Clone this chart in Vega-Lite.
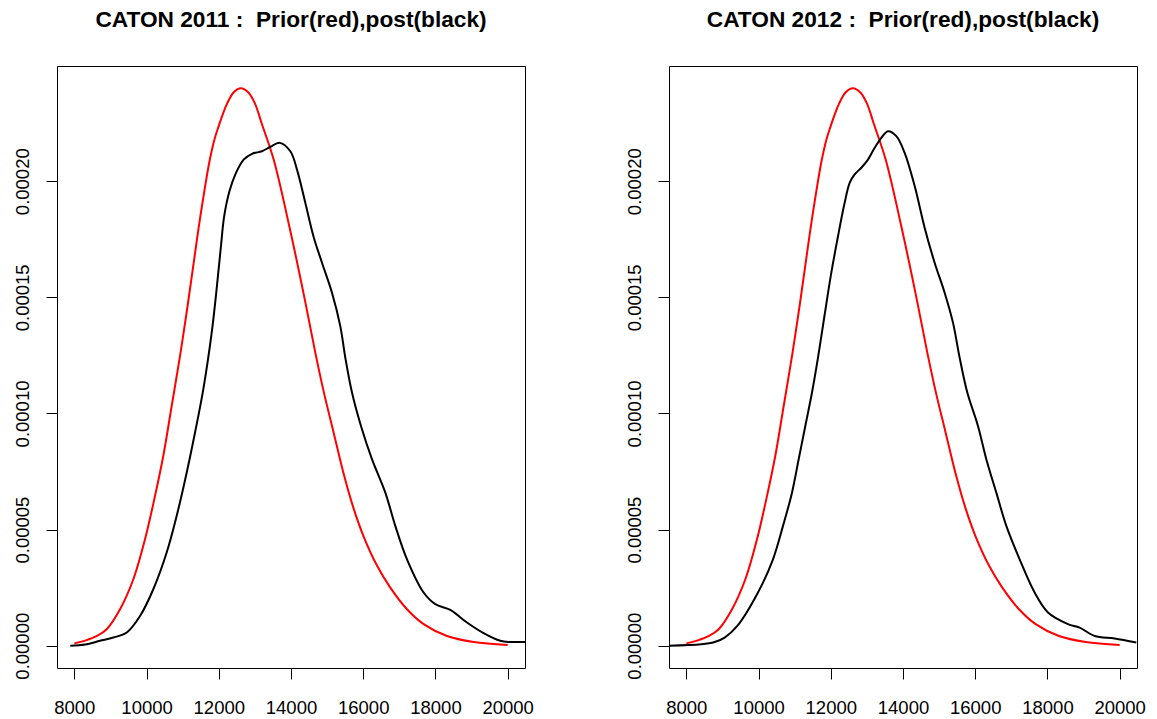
{
  "$schema": "https://vega.github.io/schema/vega-lite/v6.json",
  "background": "white",
  "padding": {"left": 12, "top": 8, "right": 0, "bottom": 0},
  "spacing": 144,
  "bounds": "flush",
  "datasets": {
    "prior": [
      {"x": 8000, "density": 0.0000010, "curve": "prior"},
      {"x": 8300, "density": 0.0000022, "curve": "prior"},
      {"x": 8628, "density": 0.0000042, "curve": "prior"},
      {"x": 8896, "density": 0.0000071, "curve": "prior"},
      {"x": 9266, "density": 0.0000157, "curve": "prior"},
      {"x": 9634, "density": 0.0000286, "curve": "prior"},
      {"x": 9957, "density": 0.0000458, "curve": "prior"},
      {"x": 10234, "density": 0.0000645, "curve": "prior"},
      {"x": 10463, "density": 0.0000817, "curve": "prior"},
      {"x": 10696, "density": 0.0001032, "curve": "prior"},
      {"x": 10926, "density": 0.0001247, "curve": "prior"},
      {"x": 11140, "density": 0.0001467, "curve": "prior"},
      {"x": 11300, "density": 0.0001643, "curve": "prior"},
      {"x": 11443, "density": 0.0001800, "curve": "prior"},
      {"x": 11600, "density": 0.0001957, "curve": "prior"},
      {"x": 11747, "density": 0.0002089, "curve": "prior"},
      {"x": 11880, "density": 0.0002180, "curve": "prior"},
      {"x": 11997, "density": 0.0002237, "curve": "prior"},
      {"x": 12120, "density": 0.0002292, "curve": "prior"},
      {"x": 12227, "density": 0.0002333, "curve": "prior"},
      {"x": 12420, "density": 0.0002384, "curve": "prior"},
      {"x": 12615, "density": 0.0002400, "curve": "prior"},
      {"x": 12820, "density": 0.0002382, "curve": "prior"},
      {"x": 13000, "density": 0.0002335, "curve": "prior"},
      {"x": 13196, "density": 0.0002245, "curve": "prior"},
      {"x": 13520, "density": 0.0002093, "curve": "prior"},
      {"x": 13953, "density": 0.0001806, "curve": "prior"},
      {"x": 14350, "density": 0.0001515, "curve": "prior"},
      {"x": 14673, "density": 0.0001262, "curve": "prior"},
      {"x": 14904, "density": 0.0001095, "curve": "prior"},
      {"x": 15181, "density": 0.0000917, "curve": "prior"},
      {"x": 15458, "density": 0.0000740, "curve": "prior"},
      {"x": 15735, "density": 0.0000590, "curve": "prior"},
      {"x": 16012, "density": 0.0000470, "curve": "prior"},
      {"x": 16381, "density": 0.0000345, "curve": "prior"},
      {"x": 16750, "density": 0.0000250, "curve": "prior"},
      {"x": 17212, "density": 0.0000157, "curve": "prior"},
      {"x": 17673, "density": 0.0000093, "curve": "prior"},
      {"x": 18319, "density": 0.0000042, "curve": "prior"},
      {"x": 19058, "density": 0.0000016, "curve": "prior"},
      {"x": 20000, "density": 0.0000003, "curve": "prior"}
    ],
    "post2011": [
      {"x": 7889, "density": 0.0000000, "curve": "posterior"},
      {"x": 8300, "density": 0.0000005, "curve": "posterior"},
      {"x": 8711, "density": 0.0000021, "curve": "posterior"},
      {"x": 9080, "density": 0.0000035, "curve": "posterior"},
      {"x": 9451, "density": 0.0000057, "curve": "posterior"},
      {"x": 9820, "density": 0.0000128, "curve": "posterior"},
      {"x": 10187, "density": 0.0000243, "curve": "posterior"},
      {"x": 10557, "density": 0.0000401, "curve": "posterior"},
      {"x": 10834, "density": 0.0000559, "curve": "posterior"},
      {"x": 11111, "density": 0.0000745, "curve": "posterior"},
      {"x": 11341, "density": 0.0000917, "curve": "posterior"},
      {"x": 11571, "density": 0.0001104, "curve": "posterior"},
      {"x": 11804, "density": 0.0001348, "curve": "posterior"},
      {"x": 11950, "density": 0.0001550, "curve": "posterior"},
      {"x": 12060, "density": 0.0001720, "curve": "posterior"},
      {"x": 12150, "density": 0.0001850, "curve": "posterior"},
      {"x": 12301, "density": 0.0001960, "curve": "posterior"},
      {"x": 12477, "density": 0.0002036, "curve": "posterior"},
      {"x": 12689, "density": 0.0002093, "curve": "posterior"},
      {"x": 12920, "density": 0.0002118, "curve": "posterior"},
      {"x": 13196, "density": 0.0002129, "curve": "posterior"},
      {"x": 13427, "density": 0.0002148, "curve": "posterior"},
      {"x": 13686, "density": 0.0002165, "curve": "posterior"},
      {"x": 13981, "density": 0.0002129, "curve": "posterior"},
      {"x": 14166, "density": 0.0002050, "curve": "posterior"},
      {"x": 14396, "density": 0.0001907, "curve": "posterior"},
      {"x": 14627, "density": 0.0001760, "curve": "posterior"},
      {"x": 14858, "density": 0.0001649, "curve": "posterior"},
      {"x": 15135, "density": 0.0001520, "curve": "posterior"},
      {"x": 15365, "density": 0.0001376, "curve": "posterior"},
      {"x": 15504, "density": 0.0001240, "curve": "posterior"},
      {"x": 15689, "density": 0.0001090, "curve": "posterior"},
      {"x": 15938, "density": 0.0000946, "curve": "posterior"},
      {"x": 16242, "density": 0.0000803, "curve": "posterior"},
      {"x": 16612, "density": 0.0000659, "curve": "posterior"},
      {"x": 16888, "density": 0.0000516, "curve": "posterior"},
      {"x": 17212, "density": 0.0000372, "curve": "posterior"},
      {"x": 17673, "density": 0.0000229, "curve": "posterior"},
      {"x": 17996, "density": 0.0000179, "curve": "posterior"},
      {"x": 18411, "density": 0.0000154, "curve": "posterior"},
      {"x": 18873, "density": 0.0000100, "curve": "posterior"},
      {"x": 19334, "density": 0.0000054, "curve": "posterior"},
      {"x": 19796, "density": 0.0000021, "curve": "posterior"},
      {"x": 20073, "density": 0.0000016, "curve": "posterior"},
      {"x": 20480, "density": 0.0000016, "curve": "posterior"}
    ],
    "post2012": [
      {"x": 7520, "density": 0.0000000, "curve": "posterior"},
      {"x": 8415, "density": 0.0000006, "curve": "posterior"},
      {"x": 8785, "density": 0.0000016, "curve": "posterior"},
      {"x": 9061, "density": 0.0000035, "curve": "posterior"},
      {"x": 9412, "density": 0.0000085, "curve": "posterior"},
      {"x": 9984, "density": 0.0000229, "curve": "posterior"},
      {"x": 10400, "density": 0.0000372, "curve": "posterior"},
      {"x": 10677, "density": 0.0000516, "curve": "posterior"},
      {"x": 10926, "density": 0.0000659, "curve": "posterior"},
      {"x": 11111, "density": 0.0000803, "curve": "posterior"},
      {"x": 11295, "density": 0.0000946, "curve": "posterior"},
      {"x": 11480, "density": 0.0001090, "curve": "posterior"},
      {"x": 11646, "density": 0.0001240, "curve": "posterior"},
      {"x": 11830, "density": 0.0001425, "curve": "posterior"},
      {"x": 12015, "density": 0.0001606, "curve": "posterior"},
      {"x": 12200, "density": 0.0001763, "curve": "posterior"},
      {"x": 12384, "density": 0.0001907, "curve": "posterior"},
      {"x": 12523, "density": 0.0001993, "curve": "posterior"},
      {"x": 12661, "density": 0.0002029, "curve": "posterior"},
      {"x": 12846, "density": 0.0002058, "curve": "posterior"},
      {"x": 13030, "density": 0.0002093, "curve": "posterior"},
      {"x": 13215, "density": 0.0002144, "curve": "posterior"},
      {"x": 13400, "density": 0.0002187, "curve": "posterior"},
      {"x": 13584, "density": 0.0002215, "curve": "posterior"},
      {"x": 13815, "density": 0.0002194, "curve": "posterior"},
      {"x": 14046, "density": 0.0002122, "curve": "posterior"},
      {"x": 14323, "density": 0.0001979, "curve": "posterior"},
      {"x": 14599, "density": 0.0001800, "curve": "posterior"},
      {"x": 14876, "density": 0.0001649, "curve": "posterior"},
      {"x": 15153, "density": 0.0001520, "curve": "posterior"},
      {"x": 15384, "density": 0.0001391, "curve": "posterior"},
      {"x": 15569, "density": 0.0001240, "curve": "posterior"},
      {"x": 15781, "density": 0.0001090, "curve": "posterior"},
      {"x": 16076, "density": 0.0000946, "curve": "posterior"},
      {"x": 16307, "density": 0.0000803, "curve": "posterior"},
      {"x": 16584, "density": 0.0000659, "curve": "posterior"},
      {"x": 16861, "density": 0.0000516, "curve": "posterior"},
      {"x": 17230, "density": 0.0000372, "curve": "posterior"},
      {"x": 17645, "density": 0.0000229, "curve": "posterior"},
      {"x": 18015, "density": 0.0000143, "curve": "posterior"},
      {"x": 18568, "density": 0.0000093, "curve": "posterior"},
      {"x": 18891, "density": 0.0000078, "curve": "posterior"},
      {"x": 19307, "density": 0.0000042, "curve": "posterior"},
      {"x": 19861, "density": 0.0000031, "curve": "posterior"},
      {"x": 20461, "density": 0.0000014, "curve": "posterior"}
    ]
  },
  "hconcat": [
    {
      "width": 468,
      "height": 602,
      "title": {"text": "CATON 2011 :\u00a0 Prior(red),post(black)"},
      "encoding": {
        "x": {"field": "x", "type": "quantitative", "title": null,
              "scale": {"domain": [7520, 20480], "nice": false, "zero": false},
              "axis": {"values": [8000, 10000, 12000, 14000, 16000, 18000, 20000], "format": "d"}},
        "y": {"field": "density", "type": "quantitative", "title": null,
              "scale": {"domain": [-0.0000096, 0.0002496], "nice": false, "zero": false},
              "axis": {"values": [0, 0.00005, 0.0001, 0.00015, 0.0002], "format": ".5f",
                       "labelAngle": -90, "labelAlign": "center", "labelBaseline": "alphabetic", "labelPadding": 18}},
        "color": {"field": "curve", "type": "nominal", "legend": null,
                  "scale": {"domain": ["prior", "posterior"], "range": ["#ff0000", "#000000"]}}
      },
      "layer": [
        {"data": {"name": "prior"},
         "mark": {"type": "line", "strokeWidth": 2, "interpolate": "catmull-rom", "clip": true}},
        {"data": {"name": "post2011"},
         "mark": {"type": "line", "strokeWidth": 2, "interpolate": "catmull-rom", "clip": true}}
      ]
    },
    {
      "width": 468,
      "height": 602,
      "title": {"text": "CATON 2012 :\u00a0 Prior(red),post(black)"},
      "encoding": {
        "x": {"field": "x", "type": "quantitative", "title": null,
              "scale": {"domain": [7520, 20480], "nice": false, "zero": false},
              "axis": {"values": [8000, 10000, 12000, 14000, 16000, 18000, 20000], "format": "d"}},
        "y": {"field": "density", "type": "quantitative", "title": null,
              "scale": {"domain": [-0.0000096, 0.0002496], "nice": false, "zero": false},
              "axis": {"values": [0, 0.00005, 0.0001, 0.00015, 0.0002], "format": ".5f",
                       "labelAngle": -90, "labelAlign": "center", "labelBaseline": "alphabetic", "labelPadding": 18}},
        "color": {"field": "curve", "type": "nominal", "legend": null,
                  "scale": {"domain": ["prior", "posterior"], "range": ["#ff0000", "#000000"]}}
      },
      "layer": [
        {"data": {"name": "prior"},
         "mark": {"type": "line", "strokeWidth": 2, "interpolate": "catmull-rom", "clip": true}},
        {"data": {"name": "post2012"},
         "mark": {"type": "line", "strokeWidth": 2, "interpolate": "catmull-rom", "clip": true}}
      ]
    }
  ],
  "config": {
    "view": {"stroke": "#000000", "strokeWidth": 1},
    "axis": {
      "grid": false,
      "domain": false,
      "ticks": true,
      "tickColor": "#000000",
      "tickSize": 11,
      "tickWidth": 1,
      "labelFont": "Liberation Sans",
      "labelFontSize": 18.5,
      "labelColor": "#000000",
      "labelOverlap": false,
      "labelFlush": false
    },
    "axisX": {"labelBaseline": "alphabetic", "labelPadding": 34},
    "title": {
      "font": "Liberation Sans",
      "fontSize": 22.7,
      "fontWeight": "bold",
      "color": "#000000",
      "anchor": "middle",
      "frame": "group",
      "baseline": "alphabetic",
      "offset": 34
    }
  }
}
